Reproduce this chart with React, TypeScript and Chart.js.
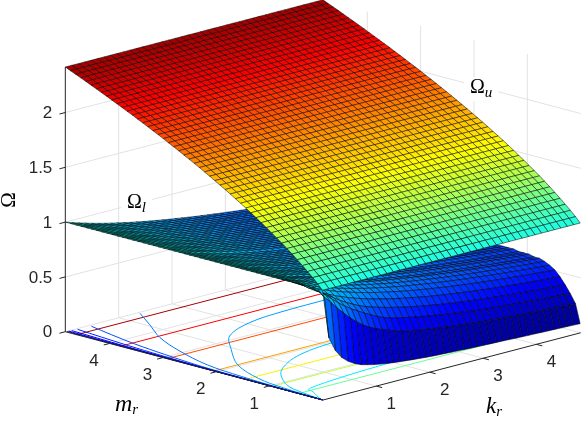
import React, { useEffect, useRef } from "react";
import { Chart, registerables } from "chart.js";

Chart.register(...registerables);

const kGrid = [0, 0.121, 0.242, 0.362, 0.483, 0.604, 0.725, 0.845, 0.966, 1.087, 1.208, 1.328, 1.449, 1.57, 1.691, 1.811, 1.932, 2.053, 2.174, 2.294, 2.415, 2.536, 2.657, 2.777, 2.898, 3.019, 3.14, 3.26, 3.381, 3.502, 3.623, 3.743, 3.864, 3.985, 4.106, 4.226, 4.347, 4.468, 4.589, 4.709, 4.83];
const mGrid = [0.01, 0.097, 0.193, 0.29, 0.386, 0.483, 0.58, 0.676, 0.773, 0.869, 0.966, 1.063, 1.159, 1.256, 1.352, 1.449, 1.546, 1.642, 1.739, 1.835, 1.932, 2.029, 2.125, 2.222, 2.318, 2.415, 2.512, 2.608, 2.705, 2.801, 2.898, 2.995, 3.091, 3.188, 3.284, 3.381, 3.478, 3.574, 3.671, 3.767, 3.864, 3.961, 4.057, 4.154, 4.25, 4.347, 4.444, 4.54, 4.637, 4.733, 4.83];

// Upper surface: constant along k_r, read per m_r row
const omegaUpper = [1.0, 1.047, 1.092, 1.135, 1.177, 1.218, 1.257, 1.295, 1.332, 1.367, 1.402, 1.436, 1.469, 1.502, 1.534, 1.565, 1.596, 1.625, 1.655, 1.684, 1.712, 1.74, 1.768, 1.795, 1.822, 1.848, 1.874, 1.899, 1.925, 1.95, 1.974, 1.999, 2.023, 2.046, 2.07, 2.093, 2.116, 2.139, 2.161, 2.183, 2.205, 2.227, 2.249, 2.27, 2.291, 2.312, 2.333, 2.354, 2.374, 2.394, 2.415];

// Lower surface rows (each row runs along k_r)
const low0 = [1, 0.55, 0.42, 0.34, 0.29, 0.255, 0.229, 0.213, 0.199, 0.188, 0.179, 0.171, 0.164, 0.158, 0.152, 0.147, 0.142, 0.138, 0.134, 0.131, 0.128, 0.125, 0.122, 0.119, 0.117, 0.114, 0.112, 0.11, 0.108, 0.105, 0.102, 0.1, 0.098, 0.096, 0.094, 0.092, 0.09, 0.088, 0.086, 0.084, 0.082];
const low1 = [1, 0.91, 0.85, 0.78, 0.72, 0.66, 0.61, 0.565, 0.53, 0.5, 0.475, 0.455, 0.437, 0.417, 0.404, 0.393, 0.382, 0.372, 0.363, 0.355, 0.347, 0.339, 0.332, 0.326, 0.32, 0.314, 0.308, 0.303, 0.298, 0.293, 0.289, 0.285, 0.281, 0.277, 0.273, 0.269, 0.266, 0.262, 0.259, 0.256, 0.253];
const low2 = [1, 0.95, 0.9, 0.85, 0.8, 0.755, 0.715, 0.68, 0.645, 0.615, 0.585, 0.558, 0.541, 0.526, 0.512, 0.499, 0.487, 0.476, 0.465, 0.455, 0.446, 0.437, 0.429, 0.422, 0.414, 0.407, 0.4, 0.394, 0.388, 0.382, 0.377, 0.372, 0.367, 0.362, 0.357, 0.353, 0.348, 0.344, 0.34, 0.336, 0.332];
const low3 = [1, 0.96, 0.915, 0.875, 0.835, 0.795, 0.76, 0.73, 0.7, 0.677, 0.657, 0.64, 0.623, 0.608, 0.594, 0.58, 0.568, 0.556, 0.545, 0.535, 0.525, 0.516, 0.507, 0.499, 0.491, 0.483, 0.476, 0.469, 0.463, 0.456, 0.45, 0.444, 0.438, 0.433, 0.428, 0.423, 0.418, 0.413, 0.409, 0.404, 0.4];
const low4 = [1, 0.956, 0.918, 0.884, 0.854, 0.826, 0.801, 0.778, 0.757, 0.738, 0.72, 0.703, 0.688, 0.673, 0.659, 0.647, 0.634, 0.623, 0.612, 0.601, 0.592, 0.582, 0.573, 0.565, 0.557, 0.549, 0.541, 0.534, 0.527, 0.52, 0.514, 0.508, 0.502, 0.496, 0.49, 0.485, 0.48, 0.475, 0.47, 0.465, 0.461];
const low5 = [1, 0.966, 0.935, 0.908, 0.882, 0.859, 0.837, 0.817, 0.799, 0.781, 0.765, 0.749, 0.735, 0.721, 0.708, 0.696, 0.684, 0.673, 0.662, 0.652, 0.643, 0.633, 0.625, 0.616, 0.608, 0.6, 0.593, 0.585, 0.578, 0.572, 0.565, 0.559, 0.553, 0.547, 0.541, 0.536, 0.53, 0.525, 0.52, 0.515, 0.51];
const low6 = [1, 0.971, 0.944, 0.92, 0.897, 0.876, 0.857, 0.838, 0.821, 0.805, 0.79, 0.775, 0.761, 0.748, 0.736, 0.724, 0.713, 0.702, 0.692, 0.683, 0.673, 0.664, 0.655, 0.647, 0.639, 0.631, 0.624, 0.617, 0.61, 0.603, 0.596, 0.59, 0.584, 0.578, 0.572, 0.567, 0.561, 0.556, 0.551, 0.546, 0.541];
const low7 = [1, 0.974, 0.95, 0.928, 0.907, 0.888, 0.87, 0.853, 0.836, 0.821, 0.807, 0.793, 0.78, 0.767, 0.756, 0.744, 0.733, 0.723, 0.713, 0.704, 0.694, 0.686, 0.677, 0.669, 0.661, 0.653, 0.646, 0.639, 0.632, 0.625, 0.619, 0.613, 0.607, 0.601, 0.595, 0.589, 0.584, 0.579, 0.574, 0.569, 0.564];
const low8 = [1, 0.976, 0.954, 0.933, 0.914, 0.896, 0.879, 0.862, 0.847, 0.832, 0.818, 0.805, 0.793, 0.781, 0.769, 0.758, 0.748, 0.738, 0.728, 0.719, 0.71, 0.701, 0.693, 0.685, 0.677, 0.669, 0.662, 0.655, 0.648, 0.642, 0.635, 0.629, 0.623, 0.617, 0.611, 0.606, 0.6, 0.595, 0.59, 0.585, 0.58];
const low9 = [1, 0.978, 0.956, 0.937, 0.918, 0.901, 0.884, 0.869, 0.854, 0.84, 0.826, 0.814, 0.801, 0.79, 0.778, 0.768, 0.757, 0.748, 0.738, 0.729, 0.72, 0.711, 0.703, 0.695, 0.688, 0.68, 0.673, 0.666, 0.659, 0.653, 0.646, 0.64, 0.634, 0.628, 0.623, 0.617, 0.612, 0.606, 0.601, 0.596, 0.592];
const low10 = [1, 0.979, 0.959, 0.94, 0.922, 0.906, 0.889, 0.875, 0.86, 0.847, 0.834, 0.821, 0.809, 0.798, 0.787, 0.777, 0.766, 0.757, 0.747, 0.738, 0.73, 0.721, 0.713, 0.705, 0.698, 0.69, 0.683, 0.676, 0.67, 0.663, 0.657, 0.651, 0.645, 0.639, 0.633, 0.628, 0.622, 0.617, 0.612, 0.607, 0.602];
const low11 = [1, 0.979, 0.96, 0.942, 0.925, 0.908, 0.893, 0.878, 0.864, 0.851, 0.838, 0.826, 0.814, 0.803, 0.792, 0.782, 0.772, 0.762, 0.753, 0.744, 0.736, 0.727, 0.719, 0.712, 0.704, 0.697, 0.69, 0.683, 0.676, 0.67, 0.663, 0.657, 0.652, 0.646, 0.64, 0.635, 0.629, 0.624, 0.619, 0.614, 0.609];
const low12 = [1, 0.98, 0.962, 0.945, 0.928, 0.912, 0.897, 0.883, 0.87, 0.857, 0.844, 0.833, 0.821, 0.81, 0.8, 0.79, 0.78, 0.771, 0.762, 0.753, 0.744, 0.736, 0.728, 0.721, 0.713, 0.706, 0.699, 0.692, 0.686, 0.679, 0.673, 0.667, 0.661, 0.655, 0.65, 0.644, 0.639, 0.634, 0.629, 0.624, 0.619];
const omegaLower = [
  low0, low1, low2, low3, low4, low5, low6, low7, low8, low8, low9, low9, low9,
  low10, low10, low10, low10, low10, low10,
  low11, low11, low11, low11, low11, low11, low11, low11, low11, low11,
  low12, low12, low12, low12, low12, low12, low12, low12, low12, low12, low12,
  low12, low12, low12, low12, low12, low12, low12, low12, low12, low12, low12,
];

// Floor contours: levels and their k_r / m_r traces
const upperLevels = [2.4, 2.2, 2.0, 1.8, 1.6, 1.4, 1.2];
const upperLevelM = [4.62, 3.8, 2.92, 2.05, 1.46, 0.96, 0.46];
const lowerContours = [
  { level: 0.9, k: [4.83, 3, 1.5, 0.81, 0.5, 0.3, 0.22, 0.22, 0.15, 0.03, 0], m: [0.76, 0.74, 0.68, 0.62, 0.58, 0.54, 0.5, 0.44, 0.3, 0.1, 0.01] },
  { level: 0.8, k: [4.83, 3, 1.87, 1.4, 1.0, 0.57, 0.2, 0.08, 0], m: [2.12, 2.02, 1.93, 1.83, 1.66, 1.36, 0.88, 0.5, 0.01] },
  { level: 0.7, k: [4.83, 3.68, 2.78, 2.07, 1.4, 0.93, 0.45, 0.16, 0.06, 0], m: [3.6, 3.55, 3.53, 3.44, 3.15, 2.65, 2.05, 1.37, 0.8, 0.01] },
  { level: 0.6, k: [1.36, 1.05, 0.69, 0.4, 0.16, 0.07, 0.03, 0.01, 0], m: [4.79, 4.3, 3.75, 3.1, 2.33, 1.6, 1.0, 0.4, 0.01] },
  { level: 0.5, k: [0.44, 0.33, 0.22, 0.13, 0.05, 0.02, 0], m: [4.78, 4.3, 3.75, 3.1, 2.33, 1.4, 0.01] },
  { level: 0.4, k: [0.2, 0.15, 0.1, 0.06, 0.025, 0.01, 0], m: [4.8, 4.3, 3.75, 3.1, 2.33, 1.4, 0.01] },
  { level: 0.3, k: [0.1, 0.075, 0.05, 0.03, 0.015, 0.005, 0], m: [4.81, 4.3, 3.75, 3.1, 2.33, 1.4, 0.01] },
  { level: 0.2, k: [0.055, 0.04, 0.03, 0.02, 0.01, 0], m: [4.82, 4.3, 3.75, 3.1, 2.33, 0.01] },
  { level: 0.1, k: [0.025, 0.02, 0.012, 0], m: [4.82, 4.3, 3.75, 0.01] },
];

const omegaTicks = [0, 0.5, 1, 1.5, 2];
const omegaTickLabels = ["0", "0.5", "1", "1.5", "2"];
const kTicks = [1, 2, 3, 4];
const mTicks = [1, 2, 3, 4];
const kMax = 4.83;
const mMax = 4.83;
const omegaTop = 2.415;
const colorTop = 2.5;

const AXIS = "#262626";
const GRID = "#e2e2e2";

const project = (k: number, m: number, z: number) => ({
  x: k - m,
  y: z + 0.127 * k + 0.129 * m,
});

function jet(t: number) {
  const v = Math.max(0, Math.min(1, t));
  const c = (d: number) => Math.max(0, Math.min(1, 1.5 - Math.abs(4 * v - d)));
  return `rgb(${Math.round(c(3) * 255)},${Math.round(c(2) * 255)},${Math.round(c(1) * 255)})`;
}

function line(pts: { x: number; y: number }[], color: string, width: number, tension = 0) {
  return {
    data: pts,
    borderColor: color,
    borderWidth: width,
    pointRadius: 0,
    tension,
    fill: false,
  } as any;
}

function surface(z: (i: number, j: number) => number, tone: (v: number) => number) {
  const cells: { s: number; i: number; j: number }[] = [];
  for (let j = 0; j < mGrid.length - 1; j++)
    for (let i = 0; i < kGrid.length - 1; i++) cells.push({ s: i + j, i, j });
  cells.sort((a, b) => b.s - a.s);
  return cells.map(({ i, j }) => {
    const corners: [number, number][] = [[i, j], [i + 1, j], [i + 1, j + 1], [i, j + 1], [i, j]];
    const pts = corners.map(([a, b]) => project(kGrid[a], mGrid[b], z(a, b)));
    const mean = (z(i, j) + z(i + 1, j) + z(i + 1, j + 1) + z(i, j + 1)) / 4;
    return {
      data: pts,
      borderColor: "rgba(0,0,0,0.85)",
      borderWidth: 0.6,
      backgroundColor: jet(tone(mean)),
      fill: "shape",
      pointRadius: 0,
      tension: 0,
    } as any;
  });
}

function buildDatasets() {
  const ds: any[] = [];
  for (const k of kTicks) {
    ds.push(line([project(k, 0, 0), project(k, mMax, 0), project(k, mMax, omegaTop)], GRID, 1));
  }
  for (const m of mTicks) {
    ds.push(line([project(0, m, 0), project(kMax, m, 0), project(kMax, m, omegaTop)], GRID, 1));
  }
  for (const z of omegaTicks) {
    ds.push(line([project(0, mMax, z), project(kMax, mMax, z), project(kMax, 0, z)], GRID, 1));
  }
  upperLevels.forEach((lv, n) => {
    ds.push(line([project(0, upperLevelM[n], 0), project(kMax, upperLevelM[n], 0)], jet(lv / colorTop), 1));
  });
  for (const c of lowerContours) {
    ds.push(line(c.k.map((k, n) => project(k, c.m[n], 0)), jet(c.level / colorTop), 1, 0.35));
  }
  ds.push(line([project(0, mMax, 0), project(0, mMax, omegaTop)], AXIS, 1));
  ds.push(line([project(0, mMax, 0), project(0, 0, 0), project(kMax, 0, 0)], AXIS, 1));
  for (const z of omegaTicks) ds.push(line([project(0, mMax, z), project(-0.11, mMax, z)], AXIS, 1));
  for (const m of mTicks) ds.push(line([project(0, m, 0), project(-0.11, m, 0)], AXIS, 1));
  for (const k of kTicks) ds.push(line([project(k, 0, 0), project(k, -0.11, 0)], AXIS, 1));
  ds.push(...surface((i, j) => omegaLower[j][i], (v) => 0.4 * Math.pow(v, 1.5)));
  ds.push(...surface((_i, j) => omegaUpper[j], (v) => v / colorTop));
  ds.forEach((d, n) => {
    d.order = ds.length - n;
  });
  return ds;
}

const textPlugin = {
  id: "texts",
  afterDatasetsDraw(chart: any) {
    const { ctx, scales } = chart;
    const px = (p: { x: number; y: number }) => ({
      x: scales.x.getPixelForValue(p.x),
      y: scales.y.getPixelForValue(p.y),
    });
    ctx.save();
    ctx.fillStyle = AXIS;
    ctx.font = '17px "Liberation Sans"';
    ctx.textBaseline = "middle";
    ctx.textAlign = "right";
    omegaTicks.forEach((z, n) => {
      const p = px(project(0, mMax, z));
      ctx.fillText(omegaTickLabels[n], p.x - 13, p.y + 1);
    });
    ctx.textAlign = "center";
    mTicks.forEach((m) => {
      const p = px(project(0, m, 0));
      ctx.fillText(String(m), p.x - 15.5, p.y + 18);
    });
    kTicks.forEach((k) => {
      const p = px(project(k, 0, 0));
      ctx.fillText(String(k), p.x + 15, p.y + 18);
    });

    const math = (main: string, sub: string, x: number, y: number, italicMain: boolean, bg: boolean, size: number) => {
      ctx.font = `${italicMain ? "italic " : ""}${size}px "Liberation Serif"`;
      const w = ctx.measureText(main).width;
      ctx.font = 'italic 15px "Liberation Serif"';
      const sw = ctx.measureText(sub).width;
      if (bg) {
        ctx.fillStyle = "#fff";
        ctx.fillRect(x - 6, y - 11, w + sw + 12, 24);
      }
      ctx.fillStyle = "#000";
      ctx.textAlign = "left";
      ctx.font = `${italicMain ? "italic " : ""}${size}px "Liberation Serif"`;
      ctx.fillText(main, x, y);
      ctx.font = 'italic 15px "Liberation Serif"';
      ctx.fillText(sub, x + w, y + 5);
    };
    math("Ω", "l", 127, 203, false, true, 20);
    math("Ω", "u", 470, 88, false, true, 20);
    math("m", "r", 115, 405, true, false, 24);
    math("k", "r", 486, 407, true, false, 23);

    ctx.save();
    ctx.translate(9, 200);
    ctx.rotate(-Math.PI / 2);
    ctx.font = '21px "Liberation Serif"';
    ctx.textAlign = "center";
    ctx.fillStyle = "#000";
    ctx.fillText("Ω", 0, 0);
    ctx.restore();
    ctx.restore();
  },
};

export default function App() {
  const ref = useRef<HTMLCanvasElement>(null);
  useEffect(() => {
    if (!ref.current) return;
    const chart = new Chart(ref.current, {
      type: "line",
      data: { datasets: buildDatasets() },
      plugins: [textPlugin],
      options: {
        animation: false,
        responsive: false,
        devicePixelRatio: 1,
        layout: { padding: 0 },
        events: [],
        plugins: { legend: { display: false }, tooltip: { enabled: false }, title: { display: false } },
        scales: {
          x: { type: "linear", display: false, min: -323 / 53.35, max: (581 - 323) / 53.35 },
          y: { type: "linear", display: false, min: (400 - 421) / 109.6, max: 400 / 109.6 },
        },
      },
    } as any);
    return () => chart.destroy();
  }, []);
  return (
    <div style={{ position: "fixed", left: 0, top: 0, width: 581, height: 421, background: "#fff" }}>
      <canvas ref={ref} width={581} height={421} style={{ display: "block", width: 581, height: 421 }} />
    </div>
  );
}
